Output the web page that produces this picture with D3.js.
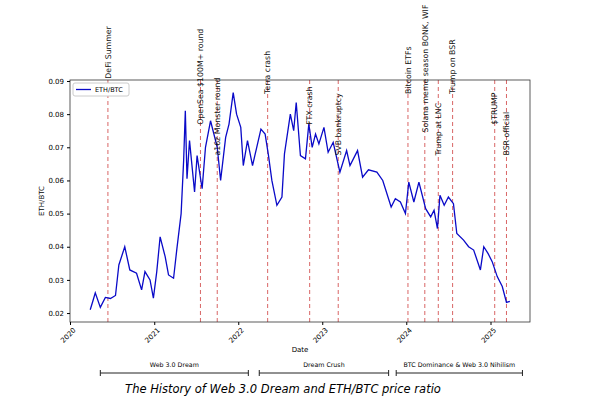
<!DOCTYPE html>
<html>
<head>
<meta charset="utf-8">
<script src="https://cdn.jsdelivr.net/npm/d3@7"></script>
<style>
  body { margin: 0; background: #fff; }
  text { font-family: "DejaVu Sans", sans-serif; }
</style>
</head>
<body>
<svg id="chart" width="600" height="403"></svg>
<script>
// ETH/BTC ratio (fractional year, value)
var years = [2020.24,2020.27,2020.30,2020.36,2020.42,2020.48,2020.54,2020.58,2020.65,2020.71,2020.79,2020.85,2020.89,2020.95,2020.99,
  2021.03,2021.07,2021.13,2021.17,2021.23,2021.27,2021.32,2021.35,2021.37,2021.39,2021.42,2021.48,2021.51,2021.57,2021.61,2021.67,2021.75,2021.79,2021.85,2021.89,2021.94,2021.98,
  2022.03,2022.06,2022.11,2022.17,2022.22,2022.27,2022.32,2022.36,2022.40,2022.46,2022.52,2022.55,2022.62,2022.66,2022.69,2022.74,2022.80,2022.84,2022.88,2022.92,2022.96,
  2023.02,2023.07,2023.13,2023.21,2023.29,2023.33,2023.42,2023.48,2023.55,2023.65,2023.72,2023.82,2023.87,2023.93,2023.99,
  2024.03,2024.09,2024.15,2024.23,2024.29,2024.33,2024.37,2024.40,2024.45,2024.50,2024.56,2024.60,2024.68,2024.74,2024.80,2024.88,2024.92,2024.97,
  2025.02,2025.08,2025.14,2025.19,2025.23];
var ratio = [0.0210,0.0235,0.0261,0.0217,0.0247,0.0244,0.0253,0.0345,0.0400,0.0330,0.0320,0.0270,0.0325,0.0300,0.0245,
  0.0325,0.0430,0.0370,0.0315,0.0305,0.0395,0.0500,0.0660,0.0810,0.0605,0.0720,0.0565,0.0675,0.0575,0.0700,0.0780,0.0700,0.0600,0.0730,0.0770,0.0865,0.0800,
  0.0760,0.0645,0.0720,0.0645,0.0700,0.0755,0.0740,0.0675,0.0600,0.0525,0.0550,0.0680,0.0800,0.0750,0.0835,0.0675,0.0665,0.0770,0.0700,0.0740,0.0710,
  0.0760,0.0685,0.0715,0.0625,0.0690,0.0645,0.0690,0.0610,0.0632,0.0625,0.0600,0.0520,0.0545,0.0535,0.0500,
  0.0595,0.0535,0.0595,0.0515,0.0490,0.0510,0.0455,0.0555,0.0525,0.0550,0.0530,0.0440,0.0420,0.0400,0.0390,0.0330,0.0400,0.0380,
  0.0355,0.0310,0.0280,0.0232,0.0235];

var eventNames = ["DeFi Summer","OpenSea $100M+ round","a16z Monster round","Terra crash","FTX crash","SVB bankruptcy",
  "Bitcoin ETFs","Solana meme season BONK, WIF","Trump at LNC","Trump on BSR","$TRUMP","BSR official"];
var eventYears = [2020.45,2021.55,2021.75,2022.35,2022.85,2023.19,2024.02,2024.22,2024.38,2024.55,2025.05,2025.19];
var labelBottoms = [0.0907,0.0768,0.0675,0.0861,0.0768,0.0675,0.0861,0.0745,0.0675,0.0861,0.0768,0.0675];

var yTicks = [0.02,0.03,0.04,0.05,0.06,0.07,0.08,0.09];
var xTicks = [2020,2021,2022,2023,2024,2025];

var eraNames = ["Web 3.0 Dream","Dream Crush","BTC Dominance & Web 3.0 Nihilism"];
var eraStart = [2020.36,2022.25,2023.88];
var eraEnd = [2022.12,2023.79,2025.38];

function toDate(v) {
  var yr = Math.floor(v);
  var a = new Date(yr, 0, 1), b = new Date(yr + 1, 0, 1);
  return new Date(+a + (v - yr) * (b - a));
}

var svg = d3.select("#chart");
var pLeft = 70, pRight = 530, pTop = 80, pBottom = 322;

var x = d3.scaleTime().domain([toDate(2020.0), toDate(2025.47)]).range([pLeft, pRight]);
var y = d3.scaleLinear().domain([0.0173, 0.0903]).range([pBottom, pTop]);

// event lines
svg.selectAll(".ev").data(eventYears).enter().append("line")
  .attr("x1", function(d) { return x(toDate(d)); })
  .attr("x2", function(d) { return x(toDate(d)); })
  .attr("y1", pTop).attr("y2", pBottom)
  .attr("stroke", "#d04040").attr("stroke-width", 1).attr("stroke-dasharray", "4,3").attr("opacity", 0.8);

// the line
var pts = years.map(function(d, i) { return [toDate(d), ratio[i]]; });
svg.append("path").datum(pts)
  .attr("fill", "none").attr("stroke", "#0a0ac8").attr("stroke-width", 1.3)
  .attr("d", d3.line().x(function(d) { return x(d[0]); }).y(function(d) { return y(d[1]); }));

// frame
svg.append("rect").attr("x", pLeft).attr("y", pTop).attr("width", pRight - pLeft).attr("height", pBottom - pTop)
  .attr("fill", "none").attr("stroke", "#333").attr("stroke-width", 0.8);

var gx = svg.append("g").attr("transform", "translate(0," + pBottom + ")")
  .call(d3.axisBottom(x).tickValues(xTicks.map(toDate)).tickFormat(d3.timeFormat("%Y")).tickSize(3));
gx.select(".domain").remove();
gx.selectAll("text").attr("font-size", 7).attr("text-anchor", "end")
  .attr("transform", "rotate(-45)").attr("dx", "-0.3em").attr("dy", "0.6em");

var gy = svg.append("g").attr("transform", "translate(" + pLeft + ",0)")
  .call(d3.axisLeft(y).tickValues(yTicks).tickFormat(d3.format(".2f")).tickSize(3));
gy.select(".domain").remove();
gy.selectAll("text").attr("font-size", 7);

svg.append("text").attr("x", (pLeft + pRight) / 2).attr("y", 352).attr("text-anchor", "middle")
  .attr("font-size", 7).text("Date");
svg.append("text").attr("transform", "translate(44," + (pTop + pBottom) / 2 + ") rotate(-90)")
  .attr("text-anchor", "middle").attr("font-size", 7).text("ETH/BTC");

// event labels, centred on their lines
svg.selectAll(".evl").data(eventNames).enter().append("text")
  .attr("transform", function(d, i) {
    return "translate(" + x(toDate(eventYears[i])) + "," + y(labelBottoms[i]) + ") rotate(-90)";
  })
  .attr("dy", "0.35em").attr("font-size", 7.8).attr("fill", "#111").text(function(d) { return d; });

// legend
svg.append("rect").attr("x", 73).attr("y", 83).attr("width", 56).attr("height", 13)
  .attr("fill", "#fff").attr("stroke", "#ccc").attr("rx", 2);
svg.append("line").attr("x1", 76).attr("x2", 91).attr("y1", 89.5).attr("y2", 89.5)
  .attr("stroke", "#0a0ac8").attr("stroke-width", 1.3);
svg.append("text").attr("x", 95).attr("y", 92).attr("font-size", 6.5).text("ETH/BTC");

// eras
var era = svg.selectAll(".era").data(eraNames).enter().append("g");
era.append("line")
  .attr("x1", function(d, i) { return x(toDate(eraStart[i])); })
  .attr("x2", function(d, i) { return x(toDate(eraEnd[i])); })
  .attr("y1", 373).attr("y2", 373).attr("stroke", "#222").attr("stroke-width", 1);
[eraStart, eraEnd].forEach(function(arr) {
  era.append("line")
    .attr("x1", function(d, i) { return x(toDate(arr[i])); })
    .attr("x2", function(d, i) { return x(toDate(arr[i])); })
    .attr("y1", 370).attr("y2", 376).attr("stroke", "#222").attr("stroke-width", 1);
});
era.append("text")
  .attr("x", function(d, i) { return (x(toDate(eraStart[i])) + x(toDate(eraEnd[i]))) / 2; })
  .attr("y", 367).attr("text-anchor", "middle").attr("font-size", 6.3)
  .attr("font-family", "'Comic Sans MS', 'DejaVu Sans', sans-serif")
  .text(function(d) { return d; });

svg.append("text").attr("x", 283).attr("y", 393).attr("text-anchor", "middle")
  .attr("font-size", 11.5).attr("font-style", "italic").attr("font-family", "'Liberation Sans', Arial, sans-serif")
  .text("The History of Web 3.0 Dream and ETH/BTC price ratio");
</script>
</body>
</html>
